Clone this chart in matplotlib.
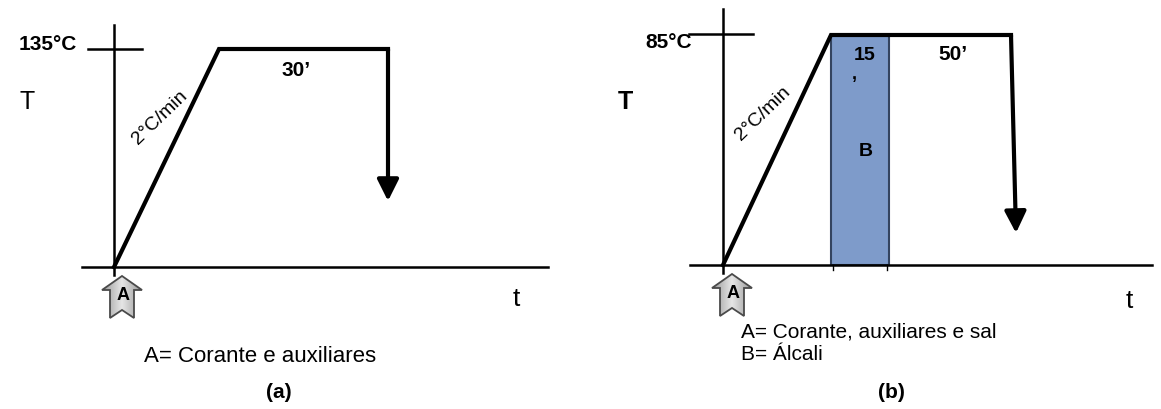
import matplotlib
matplotlib.use('Agg')
import matplotlib.pyplot as plt
import numpy as np
from matplotlib.patches import Polygon, Rectangle

plt.rcParams['font.family'] = ['Liberation Sans', 'DejaVu Sans']

# labels / values of the two dyeing curves
panel_names = ['(a)', '(b)']
top_temps = ['135°C', '85°C']
ramp_rate = '2°C/min'
hold_a = ['30’']
hold_b = ['15', '50’']
legend_a = ['A= Corante e auxiliares']
legend_b = ['A= Corante, auxiliares e sal', 'B= Álcali']

# layout of each schematic, in pixels (y grows downward)
lay_a = dict(ox=114, y0=267, ytop=49, x1=219, x2=388, tip=(388, 201),
             hax=(82, 548), vtop=25, tick=(88, 142), tick_y=49)
lay_b = dict(ox=723, y0=265, ytop=35, x1=831, x2=1011, tip=(1016, 233),
             hax=(690, 1152), vtop=9, tick=(689, 753), tick_y=34)

fig = plt.figure(figsize=(11.61, 4.09), dpi=100)
ax = fig.add_axes([0, 0, 1, 1])
ax.set_xlim(0, 1161)
ax.set_ylim(409, 0)
ax.axis('off')


def block_arrow(cx, ytip, ybot):
    # notched up-arrow, grey with a soft gradient
    hw, sw, hb, notch = 20, 12, ytip + 14, 8
    pts = [(cx, ytip), (cx + hw, hb), (cx + sw, hb), (cx + sw, ybot),
           (cx, ybot - notch), (cx - sw, ybot), (cx - sw, hb), (cx - hw, hb)]
    poly = Polygon(pts, closed=True, facecolor='none', edgecolor='#4a4a4a', lw=1.3, zorder=4)
    ax.add_patch(poly)
    g = np.abs(np.linspace(-1, 1, 50))[None, :]
    im = ax.imshow(0.6 + 0.3 * (1 - g), cmap='gray', vmin=0, vmax=1,
                   extent=(cx - hw, cx + hw, ybot, ytip), aspect='auto', zorder=3)
    im.set_clip_path(poly)


def draw_curve(L):
    ox, y0, yt = L['ox'], L['y0'], L['ytop']
    # axes
    ax.plot(L['hax'], [y0, y0], color='k', lw=1.8)
    ax.plot([ox, ox], [L['vtop'], y0 + 8], color='k', lw=1.8)
    ax.plot(L['tick'], [L['tick_y'], L['tick_y']], color='k', lw=1.8)
    # profile: ramp then hold
    ax.plot([ox, L['x1'], L['x2']], [y0, yt, yt], color='k', lw=3,
            solid_joinstyle='miter')
    ax.annotate('', xy=L['tip'], xytext=(L['x2'], yt),
                arrowprops=dict(arrowstyle='-|>,head_width=0.65,head_length=1.3',
                                lw=3, color='k', shrinkA=0, shrinkB=0))


draw_curve(lay_a)
draw_curve(lay_b)

# alkali block in (b)
ax.add_patch(Rectangle((lay_b['x1'], lay_b['ytop']), 58, lay_b['y0'] - lay_b['ytop'],
                       facecolor='#7e9bca', edgecolor='#34445f', lw=1.5, zorder=1))
for xt in (833, 887):
    ax.plot([xt, xt], [lay_b['y0'], lay_b['y0'] + 5], color='k', lw=1)

block_arrow(122, 276, 318)
block_arrow(732, 274, 316)

# texts panel (a)
ax.text(77, 44, top_temps[0], ha='right', va='center', fontsize=15, fontweight='bold')
ax.text(296, 70, hold_a[0], ha='center', va='center', fontsize=15, fontweight='bold')
ax.text(27, 102, 'T', ha='center', va='center', fontsize=18)
ax.text(160, 118, ramp_rate, ha='center', va='center', fontsize=14, rotation=44)
ax.text(516, 299, 't', ha='center', va='center', fontsize=19)
ax.text(123, 295, 'A', ha='center', va='center', fontsize=13, fontweight='bold', zorder=5)
ax.text(260, 357, legend_a[0], ha='center', va='center', fontsize=16)
ax.text(279, 392, panel_names[0], ha='center', va='center', fontsize=15, fontweight='bold')

# texts panel (b)
ax.text(692, 43, top_temps[1], ha='right', va='center', fontsize=15, fontweight='bold')
ax.text(865, 56, hold_b[0], ha='center', va='center', fontsize=14, fontweight='bold')
ax.text(854, 74, ',', ha='center', va='center', fontsize=13, fontweight='bold')
ax.text(866, 152, 'B', ha='center', va='center', fontsize=14, fontweight='bold')
ax.text(953, 55, hold_b[1], ha='center', va='center', fontsize=15, fontweight='bold')
ax.text(625, 102, 'T', ha='center', va='center', fontsize=18, fontweight='bold')
ax.text(763, 114, ramp_rate, ha='center', va='center', fontsize=14, rotation=44)
ax.text(1129, 301, 't', ha='center', va='center', fontsize=19)
ax.text(733, 293, 'A', ha='center', va='center', fontsize=13, fontweight='bold', zorder=5)
ax.text(741, 332, legend_b[0], ha='left', va='center', fontsize=15)
ax.text(741, 354, legend_b[1], ha='left', va='center', fontsize=15)
ax.text(891, 392, panel_names[1], ha='center', va='center', fontsize=15, fontweight='bold')

fig.savefig('out.png', dpi=100)
